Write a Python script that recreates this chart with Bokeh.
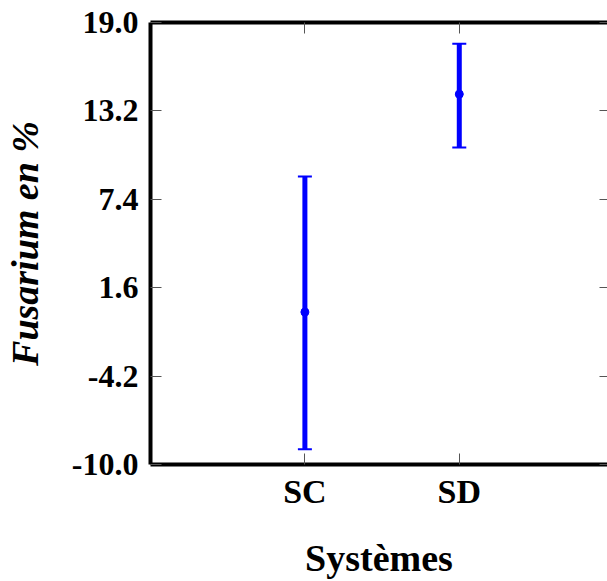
from bokeh.plotting import figure
from bokeh.models import Range1d, FixedTicker, LinearAxis, ColumnDataSource, Whisker, PrintfTickFormatter
from bokeh.embed import file_html
from bokeh.resources import INLINE

categories = ["SC", "SD"]
means = [0.0, 14.3]
lower = [-9.0, 10.8]
upper = [8.9, 17.6]
y_ticks = [-10.0, -4.2, 1.6, 7.4, 13.2, 19.0]

xpos = [i + 1 for i in range(len(categories))]
src = ColumnDataSource(dict(x=xpos, m=means, lo=lower, hi=upper))

FONT = "Liberation Serif"
BLUE = "#0000ff"

p = figure(width=607, height=581, output_backend="svg", toolbar_location=None,
           x_range=Range1d(0.0, 2.96), y_range=Range1d(-10.0, 19.0),
           min_border_left=0, min_border_right=0, min_border_top=0, min_border_bottom=0,
           x_axis_location="below", y_axis_location="left")
p.outline_line_color = None
p.grid.visible = False
p.background_fill_color = "white"
p.border_fill_color = "white"

w = Whisker(source=src, base="x", lower="lo", upper="hi", dimension="height",
            line_color=BLUE, line_width=5)
w.upper_head.size = 14
w.lower_head.size = 14
w.upper_head.line_color = BLUE
w.lower_head.line_color = BLUE
w.upper_head.line_width = 2
w.lower_head.line_width = 2
p.add_layout(w)
p.scatter("x", "m", source=src, size=8, color=BLUE)

xt = FixedTicker(ticks=xpos)
overrides = {x: c for x, c in zip(xpos, categories)}

xa = p.xaxis[0]
xa.ticker = xt
xa.major_label_overrides = overrides
xa.axis_line_width = 4
xa.axis_line_color = "black"
xa.major_tick_in = 11
xa.major_tick_out = 0
xa.major_tick_line_color = "#555555"
xa.minor_tick_line_color = None
xa.major_label_text_font = FONT
xa.major_label_text_font_style = "bold"
xa.major_label_text_font_size = "34px"
xa.major_label_text_color = "black"
xa.major_label_standoff = 8
xa.axis_label = "Systèmes"
xa.axis_label_text_font = FONT
xa.axis_label_text_font_style = "bold"
xa.axis_label_text_font_size = "38px"
xa.axis_label_text_color = "black"
xa.axis_label_standoff = 24

ya = p.yaxis[0]
ya.ticker = FixedTicker(ticks=y_ticks)
ya.formatter = PrintfTickFormatter(format="%.1f")
ya.axis_line_width = 4
ya.axis_line_color = "black"
ya.major_tick_in = 11
ya.major_tick_out = 0
ya.major_tick_line_color = "#555555"
ya.minor_tick_line_color = None
ya.major_label_text_font = FONT
ya.major_label_text_font_style = "bold"
ya.major_label_text_font_size = "32px"
ya.major_label_text_color = "black"
ya.major_label_standoff = 12
ya.axis_label = "Fusarium en %"
ya.axis_label_text_font = FONT
ya.axis_label_text_font_style = "bold italic"
ya.axis_label_text_font_size = "38px"
ya.axis_label_text_color = "black"
ya.axis_label_standoff = 23

top = LinearAxis(ticker=xt, axis_line_width=4, axis_line_color="black",
                 major_tick_in=11, major_tick_out=0, major_tick_line_color="#555555",
                 minor_tick_line_color=None, major_label_text_font_size="0px",
                 major_label_overrides={x: "" for x in xpos},
                 major_label_standoff=0)
p.add_layout(top, "above")
p.min_border_top = 22

right = LinearAxis(ticker=FixedTicker(ticks=y_ticks), axis_line_color=None,
                   major_tick_in=8, major_tick_out=0, major_tick_line_color="#555555",
                   minor_tick_line_color=None, major_label_text_font_size="0px",
                   major_label_overrides={t: "" for t in y_ticks},
                   major_label_standoff=0)
p.add_layout(right, "right")

open("out.html", "w").write(file_html(p, INLINE))
